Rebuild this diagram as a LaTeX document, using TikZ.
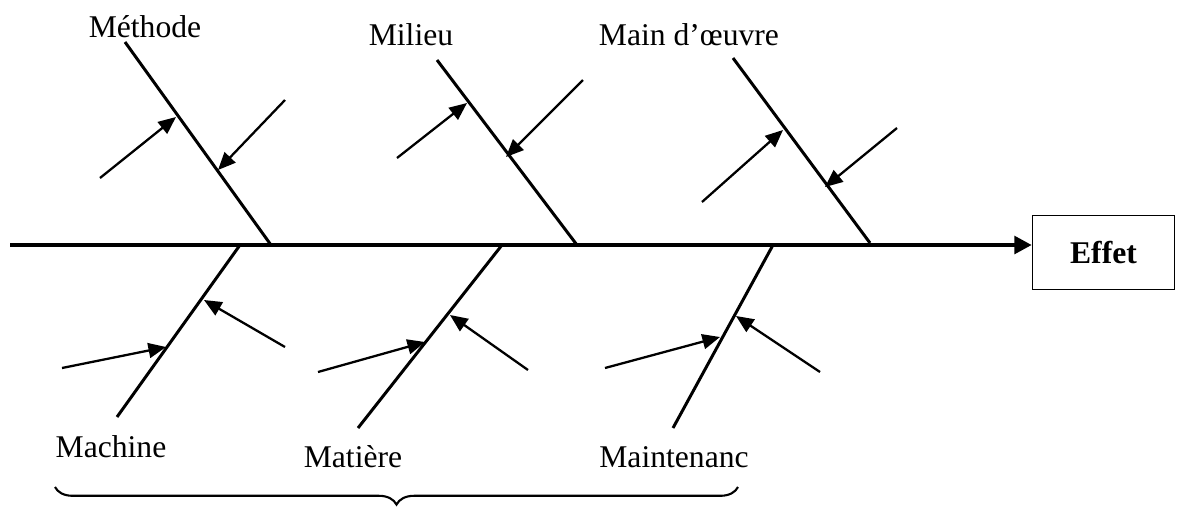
\documentclass[tikz,border=0pt]{standalone}
\usepackage{fontspec}
\setmainfont{Liberation Serif}
\usetikzlibrary{arrows.meta,decorations.pathreplacing}
\tikzset{
  bone/.style={line width=1.7pt},
  cause/.style={line width=1.3pt,-{Triangle[length=10pt,width=8.5pt]}},
  lbl/.style={anchor=base,inner sep=0pt}
}
\begin{document}
\begin{tikzpicture}[x=0.02cm,y=-0.02cm,font=\fontsize{18}{20}\selectfont]
    \useasboundingbox (0,0) rectangle (1177,508);
    % effect box and spine
    \node[draw,line width=0.8pt,minimum width=2.84cm,minimum height=1.48cm,font=\fontsize{18}{20}\selectfont\bfseries] (effet) at (1103.5,252.5) {Effet};
    \coordinate (tail) at (10,245);
    \draw[line width=2.4pt,-{Triangle[length=10pt,width=10pt]}] (tail) -- (tail -| effet.west);
    % bones
    \foreach \n/\xa/\ya/\xb/\yb in {meth/125/42/271/245,mil/437/60/577/245,mo/733/58/870/243,
        mach/240/245/117/417,mat/502/245/358/428,maint/773/245/673/428}{
      \coordinate (\n-a) at (\xa,\ya);
      \coordinate (\n-b) at (\xb,\yb);
      \draw[bone] (\n-a) -- (\n-b);}
    % labels
    \node[lbl] (lmeth) at (145,37) {Méthode};
    \node[lbl] (lmil) at (411,45) {Milieu};
    \node[lbl] (lmo) at (689,45) {Main d’œuvre};
    \node[lbl] (lmach) at (111,457) {Machine};
    \node[lbl] (lmat) at (353,467) {Matière};
    \node[lbl] (lmaint) at (674,467) {Maintenanc};
    % causes
    \foreach \xa/\ya/\xb/\yb [count=\i] in {100/178/176/117,285/100/218/170,397/158/467/103,583/80/506/157,
        702/202/783/130,897/128/825/187,62/368/166/347,285/347/204/300,318/372/425/342,
        528/370/450/315,605/368/720/337,820/372/736/316}{
      \coordinate (c\i-from) at (\xa,\ya);
      \coordinate (c\i-to) at (\xb,\yb);
      \draw[cause] (c\i-from) -- (c\i-to);}
    % brace
    \draw[line width=1.2pt,decorate,decoration={brace,mirror,amplitude=10pt}] (55,487) -- (738,487);
  \end{tikzpicture}
\end{document}
